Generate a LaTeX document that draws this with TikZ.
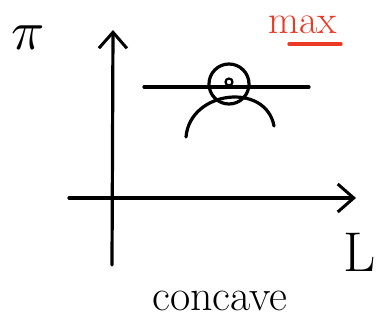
\documentclass[tikz,border=0pt]{standalone}
\usepackage{amsmath}
\usepackage{graphicx}
\usepackage{tikz}
\usetikzlibrary{arrows.meta,calc}
\definecolor{maxred}{RGB}{234,58,38}

\begin{document}
\begin{tikzpicture}[x=1pt,y=-1pt,line width=3.2pt,line cap=round,
    axis/.style={-{Straight Barb[length=16pt,width=28pt,line width=3pt]}},
    big/.style={font=\fontsize{#1}{#1}\selectfont,inner sep=0pt}]
    \useasboundingbox (0,0) rectangle (381,324);
    % axes
    \coordinate (ybot) at (112,265);
    \coordinate (ytop) at (113,30);
    \coordinate (xleft) at (69,198);
    \coordinate (xright) at (356,198);
    \draw[axis] (ybot) -- (ytop);
    \draw[axis] (xleft) -- (xright);
    % labels
    \node[inner sep=0pt] (pi) at (28,38) {\scalebox{5.5}{$\pi$}};
    \node[big=56] (L) at (360,252) {L};
    \node[big=44,anchor=base] (concave) at (220,310) {concave};
    \node[big=40,text=maxred,anchor=base] (max) at (303,34) {max};
    \coordinate (u1) at (289,44);
    \coordinate (u2) at (341,44);
    \draw[maxred] (u1) -- (u2);
    % tangent line and the maximum
    \coordinate (t1) at (144,87);
    \coordinate (t2) at (309,87);
    \draw (t1) -- (t2);
    \node[draw,circle,minimum size=40pt,inner sep=0pt] (top) at (229,84) {};
    \node[draw,circle,minimum size=7pt,inner sep=0pt,line width=2.2pt] (pt) at (229,82) {};
    % concave curve
    \coordinate (c1) at (186,137);
    \coordinate (c2) at (274,126);
    \draw (c1) .. controls (190,90) and (266,82) .. (c2);
\end{tikzpicture}
\end{document}
